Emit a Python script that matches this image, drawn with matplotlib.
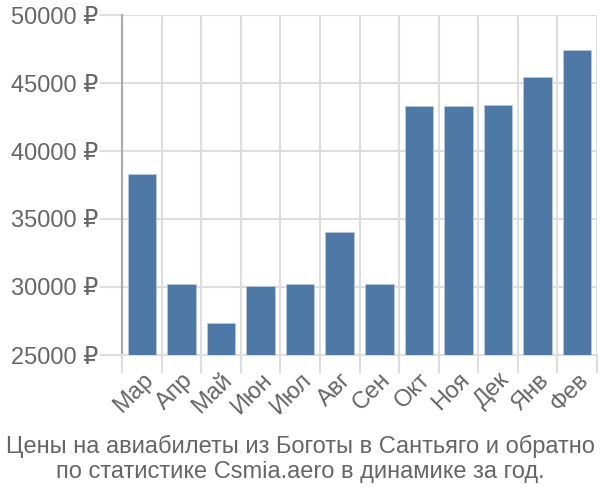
import matplotlib.pyplot as plt
from matplotlib.ticker import FixedLocator

months = ['Мар', 'Апр', 'Май', 'Июн', 'Июл', 'Авг', 'Сен', 'Окт', 'Ноя', 'Дек', 'Янв', 'Фев']
prices = [38290, 30210, 27330, 30040, 30210, 34030, 30210, 43300, 43280, 43380, 45410, 47440]
y_ticks = [25000, 30000, 35000, 40000, 45000, 50000]
title = 'Цены на авиабилеты из Боготы в Сантьяго и обратно\nпо статистике Csmia.aero в динамике за год.'

plt.rcParams['font.family'] = ['Liberation Sans', 'DejaVu Sans']
text_color = '#666666'
grid_color = '#dddddd'

fig = plt.figure(figsize=(6, 5), dpi=100)
ax = fig.add_axes([122 / 600, 1 - 355 / 500, 475 / 600, 340 / 500])

x = list(range(len(months)))
ax.bar(x, [p - y_ticks[0] for p in prices], bottom=y_ticks[0], width=0.72,
       color='#4e78a6', edgecolor='#b9c9dc', linewidth=0.6, zorder=3)

ax.set_xlim(-0.5, len(months) - 0.5)
ax.set_ylim(y_ticks[0], y_ticks[-1])

# x: labels on bar centers, tick marks and grid on category borders
ax.set_xticks(x)
ax.set_xticklabels(months, rotation=45, ha='right', rotation_mode='anchor',
                   fontsize=17, color=text_color)
ax.tick_params(axis='x', which='major', length=0, pad=10)
ax.xaxis.set_minor_locator(FixedLocator([i - 0.5 for i in range(len(months) + 1)]))
ax.tick_params(axis='x', which='minor', length=13, color=grid_color, width=1.5)
ax.grid(axis='x', which='minor', color=grid_color, linewidth=1.5, zorder=0)

ax.set_yticks(y_ticks)
ax.set_yticklabels([f'{v} ₽' for v in y_ticks], fontsize=17, color=text_color)
ax.tick_params(axis='y', length=16, color=grid_color, width=1.5, pad=1)
ax.grid(axis='y', color=grid_color, linewidth=1.5, zorder=0)

for side in ['top', 'right']:
    ax.spines[side].set_visible(False)
ax.spines['bottom'].set_color(grid_color)
ax.spines['bottom'].set_linewidth(1.5)
ax.spines['left'].set_color('#aaaaaa')
ax.spines['left'].set_linewidth(1.5)

fig.text(0.5, 1 - 459 / 500, title, ha='center', va='center', fontsize=17,
         color=text_color, linespacing=1.2)

fig.savefig('out.png', dpi=100)
plt.close(fig)
